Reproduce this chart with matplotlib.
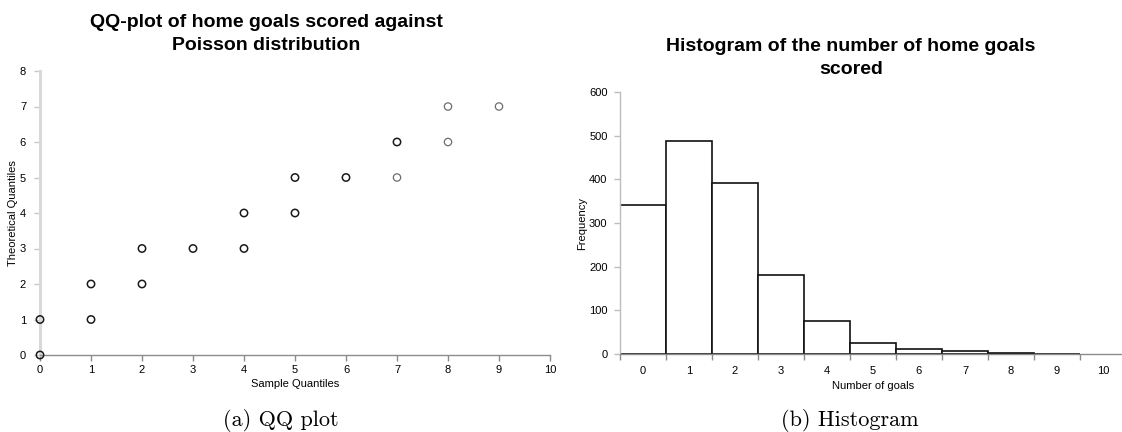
import matplotlib
matplotlib.use("Agg")
import matplotlib.pyplot as plt
import numpy as np

# ---- data ----
sample_q = [0, 0, 1, 1, 2, 2, 3, 4, 4, 5, 5, 6, 7, 7, 8, 8, 9]
theoretical_q = [0, 1, 1, 2, 2, 3, 3, 3, 4, 4, 5, 5, 5, 6, 6, 7, 7]
light_points = [False] * 12 + [True, False, True, True, True]

goal_counts = [0, 1, 2, 3, 4, 5, 6, 7, 8, 9, 10]
frequencies = [341, 488, 392, 182, 75, 25, 12, 7, 3, 1, 0]

qq_title = "QQ-plot of home goals scored against\nPoisson distribution"
hist_title = "Histogram of the number of home goals\nscored"

W, H = 1122, 432
fig = plt.figure(figsize=(W / 100, H / 100), dpi=100)
sans = "Liberation Sans"

def box(l, r, t, b):
    return [l / W, 1 - b / H, (r - l) / W, (b - t) / H]

# ---- QQ plot ----
ax1 = fig.add_axes(box(40, 550, 71, 355))
sq = np.array(sample_q)
tq = np.array(theoretical_q)
lp = np.array(light_points)
ax1.scatter(sq[~lp], tq[~lp], s=28, facecolors="none", edgecolors="#1a1a1a",
            linewidths=1.1, zorder=3, clip_on=False)
ax1.scatter(sq[lp], tq[lp], s=28, facecolors="none", edgecolors="#6e6e6e",
            linewidths=0.9, zorder=3, clip_on=False)
ax1.set_xlim(0, 10)
ax1.set_ylim(0, 8)
ax1.set_xticks(range(0, 11))
ax1.set_yticks(range(0, 9))
for s in ["top", "right"]:
    ax1.spines[s].set_visible(False)
ax1.spines["left"].set_color("#d9d9d9")
ax1.spines["left"].set_linewidth(2.2)
ax1.spines["bottom"].set_color("#8c8c8c")
ax1.spines["bottom"].set_linewidth(1.0)
ax1.tick_params(axis="x", direction="out", length=4, width=1, color="#8c8c8c",
                labelsize=8, pad=3)
ax1.tick_params(axis="y", direction="out", length=4, width=1, color="#c8c8c8",
                labelsize=8, pad=6)
for lab in ax1.get_xticklabels() + ax1.get_yticklabels():
    lab.set_fontfamily(sans)
ax1.set_xlabel("Sample Quantiles", fontsize=8, fontfamily=sans, labelpad=3)
ax1.set_ylabel("Theoretical Quantiles", fontsize=8, fontfamily=sans, labelpad=1)
fig.text(266 / W, 1 - 34 / H, qq_title, ha="center", va="center",
         fontsize=14, fontweight="bold", fontfamily=sans, linespacing=1.45)

# ---- Histogram ----
ax2 = fig.add_axes(box(620, 1126, 92, 354))
bars = ax2.bar(goal_counts, frequencies, width=1.0, facecolor="white",
               edgecolor="#111111", linewidth=1.2, zorder=2)
for b, f in zip(bars, frequencies):
    if f == 0:
        b.set_edgecolor("none")
ax2.set_xlim(-0.5, 10.5)
ax2.set_ylim(0, 600)
ax2.set_yticks(range(0, 601, 100))
ax2.set_xticks(goal_counts)
ax2.set_xticks(np.arange(-0.5, 10.6, 1.0), minor=True)
for s in ["top", "right"]:
    ax2.spines[s].set_visible(False)
ax2.spines["left"].set_color("#bdbdbd")
ax2.spines["left"].set_linewidth(1.0)
ax2.spines["bottom"].set_color("#8c8c8c")
ax2.spines["bottom"].set_linewidth(1.0)
ax2.spines["bottom"].set_zorder(3)
ax2.tick_params(axis="x", which="major", length=0, labelsize=8, pad=9)
ax2.tick_params(axis="x", which="minor", direction="out", length=4, width=1,
                color="#8c8c8c")
ax2.tick_params(axis="y", direction="out", length=4, width=1, color="#bdbdbd",
                labelsize=8, pad=5)
for lab in ax2.get_xticklabels() + ax2.get_yticklabels():
    lab.set_fontfamily(sans)
ax2.set_xlabel("Number of goals", fontsize=8, fontfamily=sans, labelpad=3)
ax2.set_ylabel("Frequency", fontsize=8, fontfamily=sans, labelpad=1)
fig.text(851 / W, 1 - 58 / H, hist_title, ha="center", va="center",
         fontsize=14, fontweight="bold", fontfamily=sans, linespacing=1.45)

# ---- captions ----
fig.text(281 / W, 1 - 421 / H, "(a) QQ plot", ha="center", va="center",
         fontsize=16, fontfamily="cmr10")
fig.text(850 / W, 1 - 421 / H, "(b) Histogram", ha="center", va="center",
         fontsize=16, fontfamily="cmr10")

fig.savefig("out.png", dpi=100)
